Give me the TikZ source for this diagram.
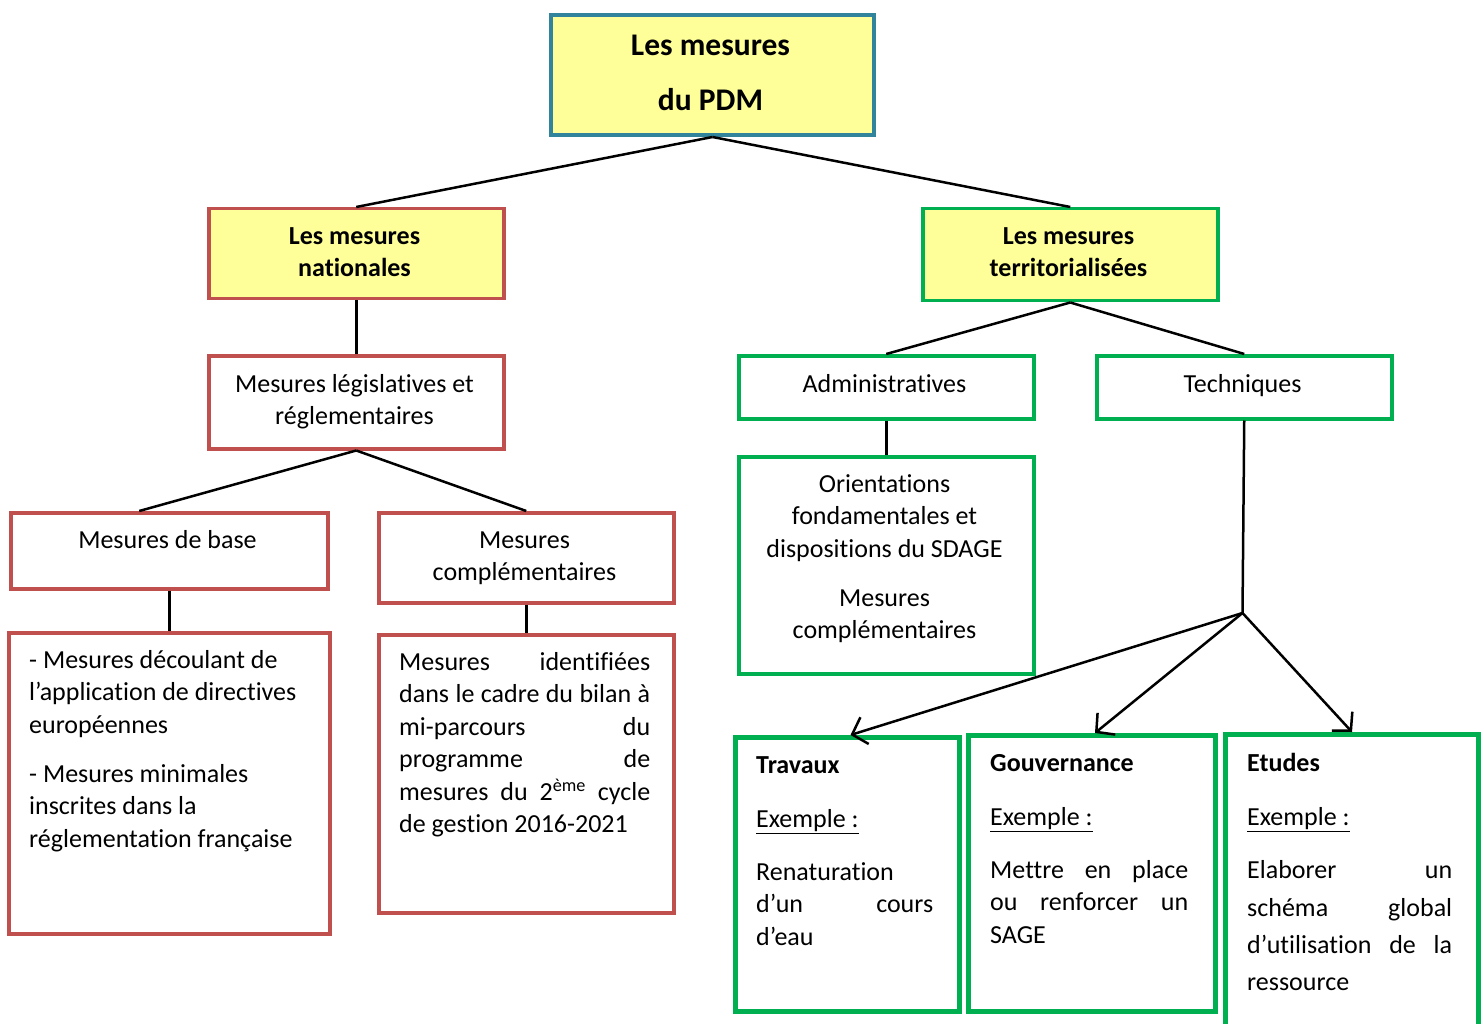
\documentclass[tikz,border=0pt]{standalone}
\usepackage{fontspec}
\setmainfont{Carlito}[Ligatures={NoCommon,NoContextual,NoRare},Contextuals=NoAlternate]
\usetikzlibrary{arrows.meta}
\definecolor{cred}{HTML}{C0504D}
\definecolor{cgreen}{HTML}{00B050}
\definecolor{cteal}{HTML}{31849B}
\definecolor{cyel}{HTML}{FFFF99}
\newcommand{\jl}[1]{\makebox[\hsize][s]{#1}}
\newcommand{\nsp}{\spaceskip=0pt\relax\xspaceskip=0pt\relax}
\tikzset{
  rbox/.style={draw=cred, line width=3.5pt, rectangle, inner sep=0pt, anchor=north west},
  gbox/.style={draw=cgreen, line width=3.5pt, rectangle, inner sep=0pt, anchor=north west},
  ggbox/.style={draw=cgreen, line width=5pt, rectangle, inner sep=0pt, anchor=north west},
  txt/.style={inner sep=0pt, anchor=north, font=\fontsize{26}{32.5}\selectfont},
  btxt/.style={inner sep=0pt, anchor=north, font=\fontsize{26}{32.5}\selectfont\bfseries},
  conn/.style={draw=black, line width=2.5pt},
  arr/.style={conn, -{Straight Barb[length=13pt,width=28pt,line width=2.5pt]}}
}
\begin{document}
\begin{tikzpicture}[x=1pt,y=-1pt]
\useasboundingbox (0,0) rectangle (1483,1024);
% boxes
\node[draw=cteal, fill=cyel, line width=4pt, rectangle, inner sep=0pt, anchor=north west,
      minimum width=323pt, minimum height=120pt] (root) at (549,13) {};
\node[rbox, fill=cyel, minimum width=295pt, minimum height=90pt] (nat) at (207,207) {};
\node[gbox, fill=cyel, minimum width=295pt, minimum height=92pt] (ter) at (921,207) {};
\node[rbox, minimum width=295pt, minimum height=93pt] (leg) at (207,354) {};
\node[gbox, minimum width=295pt, minimum height=63pt] (adm) at (737,354) {};
\node[gbox, minimum width=295pt, minimum height=63pt] (tec) at (1095,354) {};
\node[rbox, minimum width=317pt, minimum height=76pt] (base) at (9,511) {};
\node[rbox, minimum width=295pt, minimum height=90pt] (comp) at (377,511) {};
\node[rbox, minimum width=321pt, minimum height=301pt] (based) at (7,631) {};
\node[rbox, minimum width=295pt, minimum height=278pt] (compd) at (377,633) {};
\node[gbox, minimum width=295pt, minimum height=217pt] (ori) at (737,455) {};
\node[ggbox, minimum width=224pt, minimum height=274pt] (trav) at (733,735) {};
\node[ggbox, minimum width=247pt, minimum height=276pt] (gouv) at (966,733) {};
\node[ggbox, minimum width=253pt, minimum height=300pt] (etud) at (1223,732) {};
% texts
\node[inner sep=0pt, anchor=north, font=\fontsize{31.5}{55}\selectfont\bfseries, align=center]
  (root-t) at (710.5,16.5) {\strut Les mesures\\du PDM};
\node[btxt, align=center] (nat-t) at (354.5,221.25) {\strut Les mesures\\nationales};
\node[btxt, align=center] (ter-t) at (1068.5,221.25) {\strut Les mesures\\territorialisées};
\node[txt, align=center] (leg-t) at (354.5,369.25) {\strut Mesures législatives et\\réglementaires};
\node[txt, align=center] (adm-t) at (884.5,369.25) {\strut Administratives};
\node[txt, align=center] (tec-t) at (1242.5,369.25) {\strut Techniques};
\node[txt, align=center] (base-t) at (167.5,525.25) {\strut Mesures de base};
\node[txt, align=center] (comp-t) at (524.5,525.25) {\strut Mesures\\complémentaires};
\node[txt, anchor=north west, align=left] (based-t) at (29,645.25)
  {\nsp\strut - Mesures découlant de\\l’application de directives\\européennes\\[16.5pt]- Mesures minimales\\inscrites dans la\\réglementation française};
\node[txt, anchor=north west, text width=251pt, align=left] (compd-t) at (399,647.25)
  {\nsp\jl{\strut Mesures identifiées}\\\jl{dans le cadre du bilan à}\\\jl{mi-parcours du}\\\jl{programme de}\\\jl{mesures du 2\textsuperscript{ème} cycle}\\de gestion 2016-2021};
\node[txt, align=center] (ori-t) at (884.5,469.25)
  {\strut Orientations\\fondamentales et\\dispositions du SDAGE\\[16.5pt]Mesures\\complémentaires};
\node[txt, anchor=north west, text width=177pt, align=left] (trav-t) at (756,750.25)
  {\nsp\strut\textbf{Travaux}\\[21.5pt]\underline{Exemple :}\\[20.5pt]Renaturation\\\jl{d’un cours}\\d’eau};
\node[txt, anchor=north west, text width=198pt, align=left] (gouv-t) at (990,748.25)
  {\nsp\strut\textbf{Gouvernance}\\[21.5pt]\underline{Exemple :}\\[20.5pt]\jl{Mettre en place}\\\jl{ou renforcer un}\\SAGE};
\node[txt, anchor=north west, text width=205pt, align=left] (etud-t) at (1247,748.25)
  {\nsp\strut\textbf{Etudes}\\[21.5pt]\underline{Exemple :}\\[20.5pt]\jl{Elaborer un}\\[5.5pt]\jl{schéma global}\\[4.5pt]\jl{d’utilisation de la}\\[4.5pt]ressource};
% connectors
\coordinate (j) at (1242.5,613);
\draw[conn] (root.south) -- (nat.north);
\draw[conn] (root.south) -- (ter.north);
\draw[conn] (nat.south) -- (leg.north);
\draw[conn] (leg.south) -- ([xshift=-30pt]base.north);
\draw[conn] (leg.south) -- (comp.north);
\draw[conn] (base.south) -- (based.north);
\draw[conn] (comp.south) -- (compd.north);
\draw[conn] (ter.south) -- (adm.north);
\draw[conn] (ter.south) -- (tec.north);
\draw[conn] (adm.south) -- (ori.north);
\draw[conn] (tec.south) -- (j);
\draw[arr] (j) -- ([xshift=3pt]trav.north);
\draw[arr] (j) -- ([xshift=3pt]gouv.north);
\draw[arr] (j) -- (etud.north);
\end{tikzpicture}
\end{document}
